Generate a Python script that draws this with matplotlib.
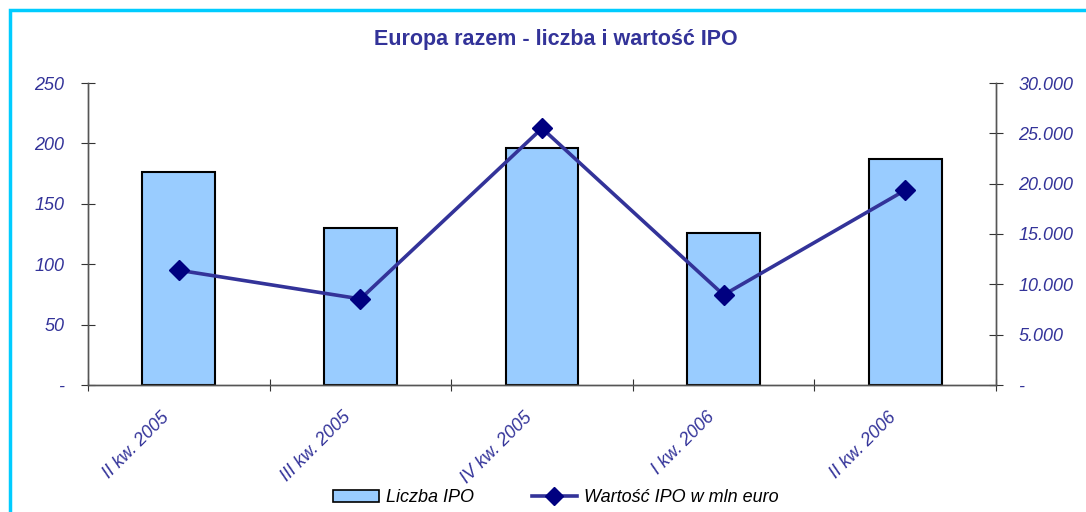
import matplotlib
matplotlib.use("Agg")
import matplotlib.pyplot as plt
from matplotlib.patches import Rectangle, Patch
from matplotlib.lines import Line2D
from matplotlib.transforms import ScaledTranslation

plt.rcParams['font.family'] = ['Liberation Sans', 'DejaVu Sans']

kwartaly = ["II kw. 2005", "III kw. 2005", "IV kw. 2005", "I kw. 2006", "II kw. 2006"]
liczba_ipo = [176, 130, 196, 126, 187]
wartosc_ipo = [11400, 8550, 25500, 8950, 19350]

lewe_ticki = [0, 50, 100, 150, 200, 250]
prawe_ticki = [0, 5000, 10000, 15000, 20000, 25000, 30000]

kolor_tekst = "#333399"

fig = plt.figure(figsize=(10.86, 5.12), dpi=100)
ax = fig.add_axes([88/1086, 1 - 385/512, (996-88)/1086, (385-83)/512])
ax2 = ax.twinx()

x = list(range(len(kwartaly)))
ax.bar(x, liczba_ipo, width=0.4, color="#99CCFF", edgecolor="black", linewidth=1.5, zorder=2)
ax2.plot(x, wartosc_ipo, color=kolor_tekst, linewidth=2.6, marker="D", markersize=10.5,
         markerfacecolor="#000080", markeredgecolor="#000080", zorder=3)

ax.set_xlim(-0.5, len(kwartaly) - 0.5)
ax.set_ylim(0, 250)
ax2.set_ylim(0, 30000)

ax.set_yticks(lewe_ticki)
ax.set_yticklabels(["-" if v == 0 else str(v) for v in lewe_ticki])
ax2.set_yticks(prawe_ticki)
ax2.set_yticklabels(["-" if v == 0 else f"{v:,}".replace(",", ".") for v in prawe_ticki])

ax.set_xticks([i - 0.5 for i in range(len(kwartaly) + 1)])
ax.set_xticklabels([])
ax.set_xticks(x, minor=True)
ax.set_xticklabels(kwartaly, minor=True, rotation=45, ha="right", va="top",
                   rotation_mode="anchor", color=kolor_tekst, fontsize=13, style="italic")
ax.tick_params(axis="x", which="minor", length=0, pad=17)
ax.tick_params(axis="x", which="major", direction="inout", length=8, color="#333333")

ax.tick_params(axis="y", direction="inout", length=10, color="#333333",
               labelcolor=kolor_tekst, labelsize=13, pad=12)
ax2.tick_params(axis="y", direction="inout", length=10, color="#333333",
                labelcolor=kolor_tekst, labelsize=13, pad=11)
for a in (ax, ax2):
    for lab in a.get_yticklabels():
        lab.set_style("italic")
    a.spines["top"].set_visible(False)
    for s in ("left", "right", "bottom"):
        a.spines[s].set_color("#555555")
        a.spines[s].set_linewidth(1.0)

przesuniecie = ScaledTranslation(-0.18, 0.0, fig.dpi_scale_trans)
for lab in ax.get_xticklabels(minor=True):
    lab.set_transform(lab.get_transform() + przesuniecie)

ax.set_zorder(ax2.get_zorder() - 1)
ax.patch.set_visible(False)
ax2.patch.set_visible(False)

fig.text(556/1086, 1 - 40/512, "Europa razem - liczba i wartość IPO", ha="center", va="center",
         color=kolor_tekst, fontsize=15.5, fontweight="bold")

uchwyty = [Patch(facecolor="#99CCFF", edgecolor="black", linewidth=1.2),
           Line2D([0], [0], color=kolor_tekst, linewidth=2.6, marker="D", markersize=9,
                  markerfacecolor="#000080", markeredgecolor="#000080")]
leg = fig.legend(uchwyty, ["Liczba IPO", "Wartość IPO w mln euro"], loc="center",
                 bbox_to_anchor=(556/1086, 1 - 498/512), ncol=2, frameon=False,
                 prop={"style": "italic", "size": 13}, handlelength=2.5, columnspacing=3.2,
                 handletextpad=0.4, handleheight=0.6)

fig.patches.append(Rectangle((10/1086, -0.1), 1.1, 1 - 10/512 + 0.1, transform=fig.transFigure,
                             fill=False, edgecolor="#00CCFF", linewidth=2.5))

fig.savefig("out.png", dpi=100)
